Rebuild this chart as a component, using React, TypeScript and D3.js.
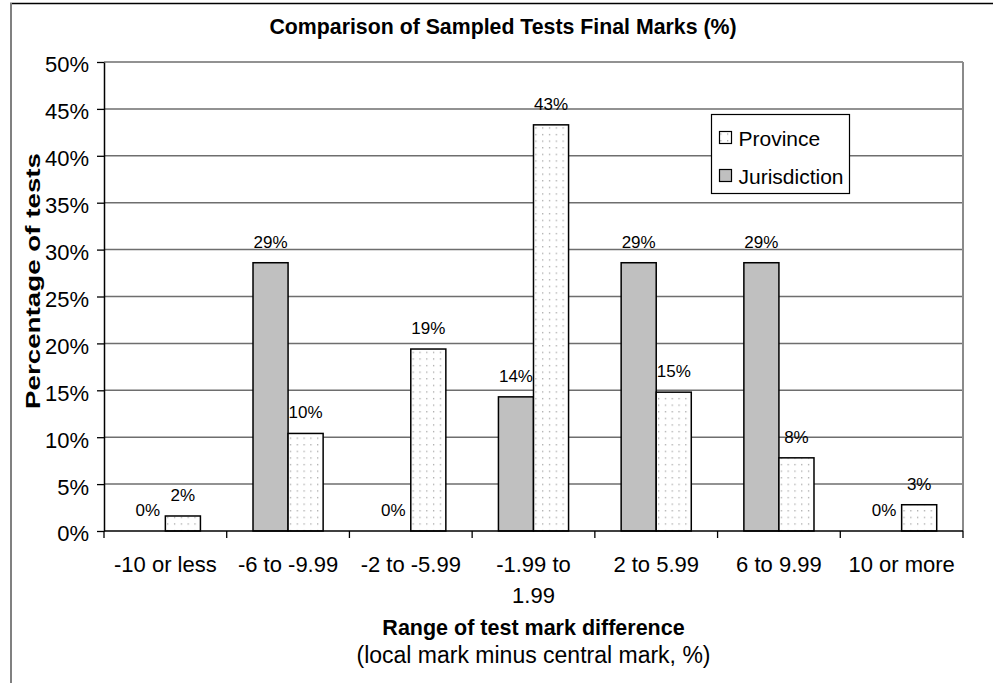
import * as d3 from "d3";
import { useEffect, useRef } from "react";

const categories = [
    "-10 or less",
    "-6 to -9.99",
    "-2 to -5.99",
    "-1.99 to 1.99",
    "2 to 5.99",
    "6 to 9.99",
    "10 or more",
];
const seriesNames = ["Jurisdiction", "Province"];
const jurisdiction = [0, 28.6, 0, 14.3, 28.6, 28.6, 0];
const province = [1.6, 10.4, 19.4, 43.3, 14.8, 7.8, 2.8];
const yTicks = [0, 5, 10, 15, 20, 25, 30, 35, 40, 45, 50];
const legendOrder = ["Province", "Jurisdiction"];

const W = 993;
const H = 683;
const FONT = "'Liberation Sans', Arial, Helvetica, sans-serif";

export default function App() {
    const svgRef = useRef<SVGSVGElement | null>(null);

    useEffect(() => {
        if (!svgRef.current) return;
        const svg = d3.select(svgRef.current);
        svg.selectAll("*").remove();

        const plot = { left: 104, right: 963, top: 62, bottom: 531 };

        const x = d3.scaleBand().domain(categories).range([plot.left, plot.right]);
        const xs = d3.scaleBand().domain(seriesNames).range([0, x.bandwidth()]).paddingOuter(0.75);
        const y = d3.scaleLinear().domain([0, 50]).range([plot.bottom, plot.top]);

        // dotted fill used by the Province bars
        const defs = svg.append("defs");
        const pat = defs.append("pattern")
            .attr("id", "dots")
            .attr("patternUnits", "userSpaceOnUse")
            .attr("width", 6.8)
            .attr("height", 6.6);
        pat.append("rect").attr("width", 6.8).attr("height", 6.6).attr("fill", "#fff");
        pat.append("rect").attr("x", 2).attr("y", 2).attr("width", 1.2).attr("height", 1.2).attr("fill", "#999");

        // outer frame
        svg.append("line").attr("x1", 10).attr("x2", W).attr("y1", 3.5).attr("y2", 3.5)
            .attr("stroke", "#000").attr("stroke-width", 1.5);
        svg.append("line").attr("x1", 11).attr("x2", 11).attr("y1", 3).attr("y2", H)
            .attr("stroke", "#808080").attr("stroke-width", 2);

        // title
        svg.append("text")
            .attr("x", 503)
            .attr("y", 34)
            .attr("text-anchor", "middle")
            .style("font-family", FONT)
            .style("font-size", "21.3px")
            .style("font-weight", "bold")
            .text("Comparison of Sampled Tests Final Marks (%)");

        // gridlines
        svg.append("g")
            .selectAll("line")
            .data(yTicks.filter(t => t > 0))
            .enter()
            .append("line")
            .attr("x1", plot.left)
            .attr("x2", plot.right)
            .attr("y1", d => y(d))
            .attr("y2", d => y(d))
            .attr("stroke", "#6e6e6e")
            .attr("stroke-width", 1.5);

        // plot area right border
        svg.append("line")
            .attr("x1", plot.right).attr("x2", plot.right)
            .attr("y1", plot.top).attr("y2", plot.bottom)
            .attr("stroke", "#8a8a8a").attr("stroke-width", 2);

        // bars
        const groups = svg.append("g")
            .selectAll("g")
            .data(categories)
            .enter()
            .append("g")
            .attr("transform", d => `translate(${x(d)},0)`);

        const barData = (i: number) => [
            { series: "Jurisdiction", value: jurisdiction[i] },
            { series: "Province", value: province[i] },
        ];

        groups.selectAll("rect")
            .data((d, i) => barData(i))
            .enter()
            .append("rect")
            .attr("x", d => xs(d.series) || 0)
            .attr("y", d => y(d.value))
            .attr("width", xs.bandwidth())
            .attr("height", d => plot.bottom - y(d.value))
            .attr("fill", d => d.series === "Jurisdiction" ? "#c0c0c0" : "url(#dots)")
            .attr("stroke", "#000")
            .attr("stroke-width", 1.5);

        // data labels
        groups.selectAll("text")
            .data((d, i) => barData(i))
            .enter()
            .append("text")
            .attr("x", d => (xs(d.series) || 0) + xs.bandwidth() / 2)
            .attr("y", d => y(d.value) - 15)
            .attr("text-anchor", "middle")
            .style("font-family", FONT)
            .style("font-size", "17px")
            .text(d => `${Math.round(d.value)}%`);

        // Y axis
        const yAxis = svg.append("g")
            .attr("transform", `translate(${plot.left},0)`)
            .call(d3.axisLeft(y).tickValues(yTicks).tickSize(7).tickSizeOuter(0).tickPadding(8).tickFormat(d => `${d}%`));
        yAxis.select(".domain").attr("stroke", "#000").attr("stroke-width", 1.5);
        yAxis.selectAll(".tick line").attr("stroke", "#000").attr("stroke-width", 1.3);
        yAxis.selectAll("text")
            .attr("dy", "0.45em")
            .style("font-family", FONT)
            .style("font-size", "22px")
            .style("fill", "#000");

        // X axis line and boundary ticks
        svg.append("line")
            .attr("x1", plot.left).attr("x2", plot.right)
            .attr("y1", plot.bottom).attr("y2", plot.bottom)
            .attr("stroke", "#000").attr("stroke-width", 1.5);
        const bounds = categories.map(c => x(c) || 0).concat([plot.right]);
        svg.append("g")
            .selectAll("line")
            .data(bounds)
            .enter()
            .append("line")
            .attr("x1", d => d).attr("x2", d => d)
            .attr("y1", plot.bottom).attr("y2", plot.bottom + 7)
            .attr("stroke", "#000").attr("stroke-width", 1.3);

        // category labels, wrapped to the band width
        const catLabels = svg.append("g")
            .selectAll("text")
            .data(categories)
            .enter()
            .append("text")
            .attr("x", d => (x(d) || 0) + x.bandwidth() / 2)
            .attr("y", 572)
            .attr("text-anchor", "middle")
            .style("font-family", FONT)
            .style("font-size", "22px");

        catLabels.each(function (d) {
            const el = d3.select(this);
            const words = d.split(" ");
            const cx = el.attr("x");
            let line: string[] = [];
            let tspan = el.append("tspan").attr("x", cx).attr("dy", 0);
            for (const w of words) {
                line.push(w);
                tspan.text(line.join(" "));
                const node = tspan.node() as SVGTSpanElement;
                if (node.getComputedTextLength() > 112 && line.length > 1) {
                    line.pop();
                    tspan.text(line.join(" "));
                    line = [w];
                    tspan = el.append("tspan").attr("x", cx).attr("dy", 30.5).text(w);
                }
            }
        });

        // axis titles
        svg.append("text")
            .attr("x", (plot.left + plot.right) / 2)
            .attr("y", 635)
            .attr("text-anchor", "middle")
            .style("font-family", FONT)
            .style("font-size", "21.5px")
            .style("font-weight", "bold")
            .text("Range of test mark difference");
        svg.append("text")
            .attr("x", (plot.left + plot.right) / 2)
            .attr("y", 663)
            .attr("text-anchor", "middle")
            .style("font-family", FONT)
            .style("font-size", "23px")
            .text("(local mark minus central mark, %)");
        svg.append("text")
            .attr("transform", "translate(40,281) rotate(-90)")
            .attr("text-anchor", "middle")
            .attr("textLength", 256)
            .attr("lengthAdjust", "spacingAndGlyphs")
            .style("font-family", FONT)
            .style("font-size", "21px")
            .style("font-weight", "bold")
            .text("Percentage of tests");

        // legend
        const legend = svg.append("g").attr("transform", "translate(711.5,114.5)");
        legend.append("rect")
            .attr("width", 138)
            .attr("height", 79)
            .attr("fill", "#fff")
            .attr("stroke", "#000")
            .attr("stroke-width", 1.2);
        const items = legend.selectAll("g.item")
            .data(legendOrder)
            .enter()
            .append("g")
            .attr("class", "item")
            .attr("transform", (d, i) => `translate(0,${17 + i * 38})`);
        items.append("rect")
            .attr("x", 8)
            .attr("y", 0)
            .attr("width", 12)
            .attr("height", 12)
            .attr("fill", d => d === "Jurisdiction" ? "#c0c0c0" : "url(#dots)")
            .attr("stroke", "#000")
            .attr("stroke-width", 1.2);
        items.append("text")
            .attr("x", 27)
            .attr("y", 14)
            .style("font-family", FONT)
            .style("font-size", "21px")
            .text(d => d);
    }, []);

    return (
        <svg
            ref={svgRef}
            width={W}
            height={H}
            style={{ position: "absolute", left: 0, top: 0, background: "#fff", display: "block" }}
        ></svg>
    );
}
